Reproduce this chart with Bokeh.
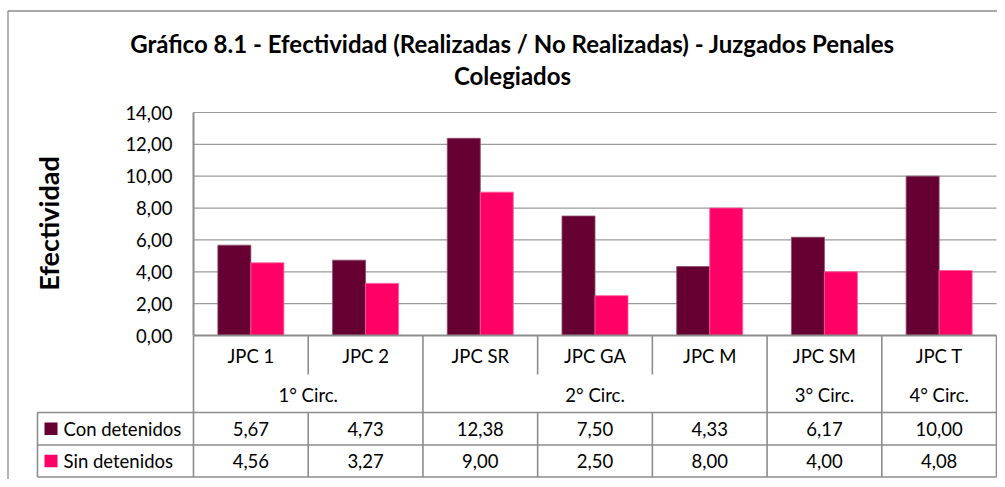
import math
from bokeh.plotting import figure
from bokeh.models import Range1d, FixedTicker, ColumnDataSource
from bokeh.core.properties import value
from bokeh.transform import dodge
from bokeh.embed import file_html
from bokeh.resources import INLINE

# ---------------- data ----------------
categories = ["JPC 1", "JPC 2", "JPC SR", "JPC GA", "JPC M", "JPC SM", "JPC T"]
groups = ["1° Circ.", "2° Circ.", "3° Circ.", "4° Circ."]
group_sizes = [2, 3, 1, 1]
series_names = ["Con detenidos", "Sin detenidos"]
con_detenidos = [5.67, 4.73, 12.38, 7.50, 4.33, 6.17, 10.00]
sin_detenidos = [4.56, 3.27, 9.00, 2.50, 8.00, 4.00, 4.08]
y_ticks = [0, 2, 4, 6, 8, 10, 12, 14]
title_lines = ["Gráfico 8.1 - Efectividad (Realizadas / No Realizadas) - Juzgados Penales",
               "Colegiados"]
y_label = "Efectividad"

# ---------------- style / layout ----------------
FONT = "Lato"
C_CON = "#660033"
C_SIN = "#FF0066"
GRID = "#9a9a9a"
LINE = "#8c8c8c"
W, H = 997, 479
X0_PX = 193.0            # plot-area left (canvas px)
X1_PX = 996.0            # plot-area right
Y0_PX = 335.0            # value 0
Y14_PX = 112.0           # value 14
n = len(categories)
PX_X = (X1_PX - X0_PX) / n
PX_Y = (Y0_PX - Y14_PX) / max(y_ticks)

def dx(px):  # canvas x -> data x
    return (px - X0_PX) / PX_X

def dy(py):  # canvas y -> data y
    return (Y0_PX - py) / PX_Y

p = figure(width=W, height=H, output_backend="svg", toolbar_location=None,
           x_range=Range1d(dx(0), dx(W)), y_range=Range1d(dy(H), dy(0)),
           min_border=0, x_axis_location=None)
p.outline_line_color = None
p.xgrid.visible = False
p.ygrid.visible = False
p.background_fill_color = "white"
p.border_fill_color = "white"

xc = [i + 0.5 for i in range(n)]

# outer frame (extends beyond the picture at right/bottom)
p.quad(left=[dx(7.5)], right=[dx(1100)], top=[dy(10.5)], bottom=[dy(600)],
       fill_color=None, line_color=LINE, line_width=1.3)

# gridlines
gy = [t for t in y_ticks if t > 0]
p.segment(x0=[0] * len(gy), x1=[n] * len(gy), y0=gy, y1=gy, line_color=GRID, line_width=1.2)

# bars
src = ColumnDataSource(dict(x=xc, con=con_detenidos, sin=sin_detenidos))
bw = 33.0 / PX_X
p.vbar(x=dodge("x", -bw / 2, range=p.x_range), top="con", width=bw, bottom=0,
       source=src, fill_color=C_CON, line_color="#8a4d6a", line_width=0.8)
p.vbar(x=dodge("x", bw / 2, range=p.x_range), top="sin", width=bw, bottom=0,
       source=src, fill_color=C_SIN, line_color="#ff5c9a", line_width=0.8)

# y axis (fixed at the plot-area left edge)
yax = p.yaxis[0]
yax.fixed_location = 0
yax.ticker = FixedTicker(ticks=y_ticks)
yax.major_label_overrides = {t: f"{t:.2f}".replace(".", ",") for t in y_ticks}
yax.axis_line_color = None
yax.major_tick_line_color = None
yax.minor_tick_line_color = None
yax.major_tick_out = 0
yax.major_tick_in = 0
yax.major_label_standoff = 21
yax.major_label_text_font = FONT
yax.major_label_text_font_size = "18.5px"
yax.major_label_text_color = "#000000"

# axis line
p.segment(x0=[0], x1=[0], y0=[0], y1=[max(y_ticks)], line_color=LINE, line_width=2)

# ---------------- table ----------------
r_cat_top = dy(335)
r_cat_bot = dy(374)
r_grp_bot = dy(412)
r1_bot = dy(444.5)
r2_bot = dy(476.5)
x_leg = dx(37)

# horizontal lines
p.segment(x0=[0], x1=[n], y0=[r_cat_top], y1=[r_cat_top], line_color=LINE, line_width=2)
for yy in (r_grp_bot, r1_bot, r2_bot):
    p.segment(x0=[x_leg], x1=[n], y0=[yy], y1=[yy], line_color=LINE, line_width=1.6)

# group boundaries
bounds = [0]
for s in group_sizes:
    bounds.append(bounds[-1] + s)
for b in bounds:
    p.segment(x0=[b], x1=[b], y0=[r_cat_top], y1=[r2_bot], line_color=LINE, line_width=1.6)
# inner category separators
for i in range(1, n):
    if i not in bounds:
        p.segment(x0=[i, i], x1=[i, i], y0=[r_cat_top, r_grp_bot], y1=[r_cat_bot, r2_bot],
                  line_color=LINE, line_width=1.6)
# legend column left border
p.segment(x0=[x_leg], x1=[x_leg], y0=[r_grp_bot], y1=[r2_bot], line_color=LINE, line_width=1.6)

txt = dict(text_font=value(FONT), text_font_size="18.5px", text_color="#000000",
           text_align="center", text_baseline="middle")

row1_c = (r_grp_bot + r1_bot) / 2
row2_c = (r1_bot + r2_bot) / 2

# category labels
p.text(x=xc, y=[dy(355)] * n, text=categories, **txt)
# group labels
gx = [(bounds[k] + bounds[k + 1]) / 2 for k in range(len(groups))]
p.text(x=gx, y=[dy(394)] * len(groups), text=groups, **txt)
# values
fmt = lambda v: f"{v:.2f}".replace(".", ",")
p.text(x=xc, y=[row1_c] * n, text=[fmt(v) for v in con_detenidos], **txt)
p.text(x=xc, y=[row2_c] * n, text=[fmt(v) for v in sin_detenidos], **txt)

# legend keys
p.rect(x=[dx(50.5)] * 2, y=[row1_c, row2_c], width=13.0 / PX_X, height=12.5 / PX_Y,
       fill_color=[C_CON, C_SIN], line_color=None)
p.text(x=[dx(63)] * 2, y=[row1_c, row2_c], text=series_names,
       text_font=value(FONT), text_font_size="18.5px", text_color="#000000",
       text_align="left", text_baseline="middle")

# title
p.text(x=[dx(512)] * 2, y=[dy(43), dy(75)], text=title_lines,
       text_font=value(FONT), text_font_size="24px", text_font_style="bold",
       text_color="#000000", text_align="center", text_baseline="middle")

# y label
p.text(x=[dx(48)], y=[dy(223)], text=[y_label], angle=math.pi / 2,
       text_font=value(FONT), text_font_size="27px", text_font_style="bold",
       text_color="#000000", text_align="center", text_baseline="middle")

open("out.html", "w").write(file_html(p, INLINE))
